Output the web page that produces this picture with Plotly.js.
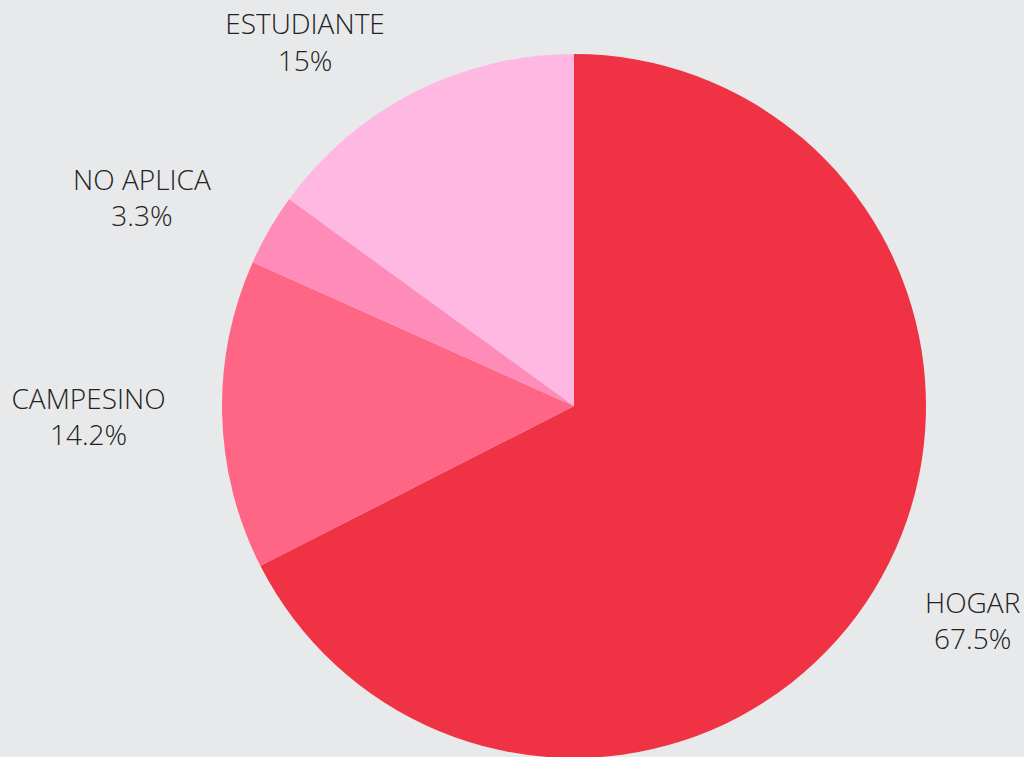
<!DOCTYPE html>
<html>
<head>
<meta charset="utf-8">
<script src="https://cdn.plot.ly/plotly-3.0.1.min.js"></script>
<style>
html,body{margin:0;padding:0;background:#E8E9EA;overflow:hidden;}
#wrap{width:1024px;height:757px;overflow:hidden;}
#chart{width:1024px;height:820px;}
</style>
</head>
<body>
<div id="wrap"><div id="chart"></div></div>
<script>
const categories = ["HOGAR", "CAMPESINO", "NO APLICA", "ESTUDIANTE"];
const values = [67.5, 14.2, 3.3, 15];
const colors = ["#EF3344", "#FF6584", "#FF8CB8", "#FFB8E2"];

const H = 820;
const pieTrace = {
  type: "pie",
  labels: categories,
  values: values,
  sort: false,
  direction: "clockwise",
  rotation: 0,
  marker: {colors: colors, line: {width: 0}},
  textinfo: "none",
  automargin: false,
  showlegend: false,
  domain: {x: [0.2168, 0.9043], y: [(H - 758) / H, (H - 54) / H]},
  hoverinfo: "label+percent"
};

// transparent twin trace that carries the outside labels a bit further out
const labelTrace = {
  type: "pie",
  labels: categories,
  values: values,
  sort: false,
  direction: "clockwise",
  rotation: 0,
  pull: [0.108, 0.108, 0.131, 0.068],
  marker: {colors: categories.map(() => "rgba(0,0,0,0)"), line: {width: 0}},
  textinfo: "label+percent",
  textposition: "outside",
  outsidetextfont: {family: "Open Sans", size: 28, color: "#222222", weight: 300},
  automargin: false,
  showlegend: false,
  domain: {x: [176 / 1024, 972 / 1024], y: [(H - 804) / H, (H - 8) / H]},
  hoverinfo: "skip"
};

const layout = {
  width: 1024,
  height: H,
  margin: {l: 0, r: 0, t: 0, b: 0},
  paper_bgcolor: "#E8E9EA",
  plot_bgcolor: "#E8E9EA",
  showlegend: false
};

Plotly.newPlot("chart", [pieTrace, labelTrace], layout, {displayModeBar: false, staticPlot: true});
</script>
</body>
</html>
